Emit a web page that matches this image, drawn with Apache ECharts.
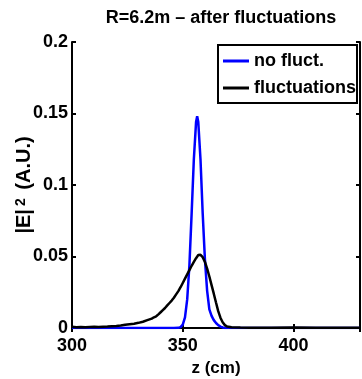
<!DOCTYPE html>
<html><head><meta charset="utf-8">
<script src="https://cdn.jsdelivr.net/npm/echarts@6/dist/echarts.min.js"></script>
<style>html,body{margin:0;padding:0;background:#fff}#c{width:362px;height:379px}</style>
</head><body><div id="c"></div>
<script>
var FONT = "'Liberation Sans',Arial,Helvetica,sans-serif";
var titleText = "R=6.2m \u2013 after fluctuations";
var seriesNames = ["no fluct.", "fluctuations"];
var xTicks = [300, 350, 400];
var yTicks = [0, 0.05, 0.1, 0.15, 0.2];

var zBlue = [300, 320, 340, 346, 348, 349, 350, 351, 352, 353, 354, 355, 356, 356.5, 357, 358, 359, 360, 361, 362, 363, 364, 365, 366, 367, 368, 369, 380, 400, 430];
var eBlue = [0, 0, 0, 0, 0.0001, 0.0006, 0.0023, 0.0074, 0.020, 0.044, 0.080, 0.118, 0.144, 0.148, 0.144, 0.118, 0.080, 0.048, 0.026, 0.013, 0.0085, 0.0055, 0.0035, 0.0020, 0.0010, 0.0004, 0, 0, 0, 0];

var zBlack = [300, 302, 304, 306, 308, 310, 312, 314, 316, 318, 320, 322, 324, 326, 328, 330, 332, 334, 336, 337, 338, 339, 340, 341, 342, 343, 344, 345, 346, 347, 348, 349, 350, 351, 352, 353, 354, 355, 356, 357, 357.5, 358, 359, 360, 361, 362, 363, 364, 365, 366, 367, 368, 369, 370, 372, 376, 380, 390, 400, 410, 420, 430];
var eBlack = [0.0008, 0.0006, 0.0007, 0.0005, 0.0007, 0.0008, 0.0007, 0.0009, 0.0010, 0.0012, 0.0014, 0.0017, 0.0022, 0.0026, 0.0030, 0.0036, 0.0044, 0.0055, 0.0066, 0.0075, 0.0082, 0.0095, 0.0110, 0.0125, 0.0140, 0.0158, 0.0175, 0.0192, 0.0212, 0.0235, 0.0258, 0.0285, 0.0315, 0.0345, 0.0375, 0.0405, 0.0435, 0.0462, 0.0488, 0.0510, 0.0518, 0.0512, 0.0495, 0.0462, 0.0415, 0.0360, 0.0300, 0.0240, 0.0178, 0.0118, 0.0072, 0.0040, 0.0020, 0.0010, 0.0005, 0.0003, 0.0002, 0.0002, 0.0003, 0.0002, 0.0002, 0.0002];

function pairs(xs, ys){ return xs.map(function(x,i){ return [x, ys[i]]; }); }

var chart = echarts.init(document.getElementById('c'), null, {renderer:'canvas'});
var axisLine = {show:true, lineStyle:{color:'#000', width:2}};
var tick = {show:true, inside:true, length:4, lineStyle:{color:'#000', width:2}};
chart.setOption({
  animation:false,
  backgroundColor:'#fff',
  title:{text:titleText, left:216, textAlign:'center', top:4,
    textStyle:{fontFamily:FONT, fontWeight:'bold', fontSize:18, color:'#000'}},
  grid:{left:72, right:2, top:42, bottom:51, show:false, containLabel:false, outerBoundsMode:'none'},
  legend:{
    orient:'vertical', left:218, top:45,
    padding:[7,1,6,5], itemWidth:26, itemHeight:3, itemGap:9,
    backgroundColor:'#fff', borderColor:'#000', borderWidth:2, borderRadius:0,
    icon:'rect', z:10,
    textStyle:{fontFamily:FONT, fontWeight:'bold', fontSize:18, lineHeight:18, color:'#000'},
    data:seriesNames
  },
  xAxis:[{
    type:'value', min:300, max:430, interval:50,
    axisLine:axisLine, axisTick:tick, splitLine:{show:false},
    axisLabel:{fontFamily:FONT, fontWeight:'bold', fontSize:18, color:'#000', margin:9, showMaxLabel:false,
      formatter:function(v){ return xTicks.indexOf(v)>=0 ? String(v) : ''; }},
    name:'z (cm)', nameLocation:'middle', nameGap:32, nameMoveOverlap:false,
    nameTextStyle:{fontFamily:FONT, fontWeight:'bold', fontSize:17, color:'#000'}
  },{
    type:'value', position:'top', min:300, max:430, interval:50,
    axisLine:axisLine, axisTick:tick, axisLabel:{show:false}, splitLine:{show:false}
  }],
  yAxis:[{
    type:'value', min:0, max:0.2, interval:0.05,
    axisLine:axisLine, axisTick:tick, splitLine:{show:false},
    axisLabel:{fontFamily:FONT, fontWeight:'bold', fontSize:18, color:'#000', margin:4,
      formatter:function(v){ var t = yTicks.filter(function(q){return Math.abs(q-v)<1e-9;}); return t.length? String(+t[0].toFixed(2)) : ''; }},
    name:'{a||E|}{s|2}{a| (A.U.)}', nameLocation:'middle', nameGap:38, nameRotate:90, nameMoveOverlap:false,
    nameTextStyle:{fontFamily:FONT, fontWeight:'bold', fontSize:20, color:'#000',
      rich:{a:{fontFamily:FONT, fontWeight:'bold', fontSize:20, color:'#000'},
            s:{fontFamily:FONT, fontWeight:'bold', fontSize:14, color:'#000', verticalAlign:'top', lineHeight:12, padding:[0,3,8,3]}}}
  },{
    type:'value', position:'right', min:0, max:0.2, interval:0.05,
    axisLine:axisLine, axisTick:tick, axisLabel:{show:false}, splitLine:{show:false}
  }],
  series:[{
    name:seriesNames[0], type:'line', data:pairs(zBlue, eBlue), showSymbol:false, symbol:'none',
    lineStyle:{color:'#0000ff', width:2.5}, itemStyle:{color:'#0000ff'}, smooth:false, z:3
  },{
    name:seriesNames[1], type:'line', data:pairs(zBlack, eBlack), showSymbol:false, symbol:'none',
    lineStyle:{color:'#000', width:2.5}, itemStyle:{color:'#000'}, smooth:false, z:4
  }]
});
</script></body></html>
